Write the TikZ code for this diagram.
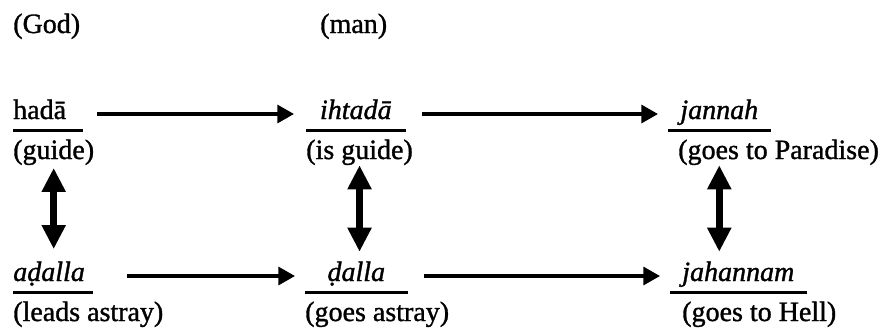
\documentclass[tikz,border=0pt]{standalone}
\usepackage{fontspec}
\setmainfont{Liberation Serif}[FakeBold=1.2]
\usepackage{tikz}
\usetikzlibrary{positioning}
\usetikzlibrary{arrows.meta}

\begin{document}
\begin{tikzpicture}[
  x=0.75pt, y=-0.75pt,
  font=\fontsize{21}{25}\selectfont,
  term/.style={inner sep=0pt, text height=15.75pt, text depth=8.25pt, text width=#1, align=center, anchor=base west},
  gloss/.style={inner sep=0pt, text depth=4.5pt, anchor=base west},
  uline/.style={line width=2pt},
  arrow/.style={-{Triangle[length=12.5pt,width=13.5pt]}, line width=2.4pt},
  dblarrow/.style={{Triangle[length=18pt,width=17pt]}-{Triangle[length=18pt,width=17pt]}, line width=5.5pt}
]
\useasboundingbox (0,0) rectangle (888,329);

% Headings
\node[gloss] (god) at (13,33) {(God)};
\node[gloss] (man) at (320,33) {(man)};

% Guidance row
\node[term=51.75pt, align=left] (hada) at (13,119) {hadā};
\node[term=74.25pt] (ihtada) at (306,119) {\textit{ihtadā}};
\node[term=76.5pt] (jannah) at (668,119) {\textit{jannah}};
\node[gloss] (guide) at (13,159) {(guide)};
\node[gloss] (isguide) at (306,159) {(is guide)};
\node[gloss] (paradise) at (678,159) {(goes to Paradise)};

% Astray row
\node[term=59.25pt, align=left] (adalla) at (13,281) {\textit{aḍalla}};
\node[term=76.5pt] (dalla) at (305,281) {\textit{ḍalla}};
\node[term=102pt] (jahannam) at (670,281) {\textit{jahannam}};
\node[gloss] (leads) at (13,321) {(leads astray)};
\node[gloss] (astray) at (305,321) {(goes astray)};
\node[gloss] (hell) at (682,321) {(goes to Hell)};

% Underlines
\foreach \t in {hada,ihtada,jannah,adalla,dalla,jahannam}
  \draw[uline] (\t.south west) -- (\t.south east);

% Horizontal arrows
\draw[arrow, shorten <=11pt, shorten >=9pt] (hada) -- (ihtada);
\draw[arrow, shorten <=12.5pt, shorten >=7.5pt] (ihtada) -- (jannah);
\draw[arrow, shorten <=26pt, shorten >=7.5pt] (adalla) -- (dalla);
\draw[arrow, shorten <=12pt, shorten >=7.5pt] (dalla) -- (jahannam);

% Vertical double arrows
\draw[dblarrow, shorten <=2pt, shorten >=8pt] (guide.south) -- (guide.south |- adalla.north);
\draw[dblarrow, shorten <=0pt, shorten >=6pt] (isguide.south) -- (isguide.south |- dalla.north);
\draw[dblarrow, shorten <=0pt, shorten >=6pt] (paradise.south -| jannah) -- (jahannam.north -| jannah);

\end{tikzpicture}
\end{document}
